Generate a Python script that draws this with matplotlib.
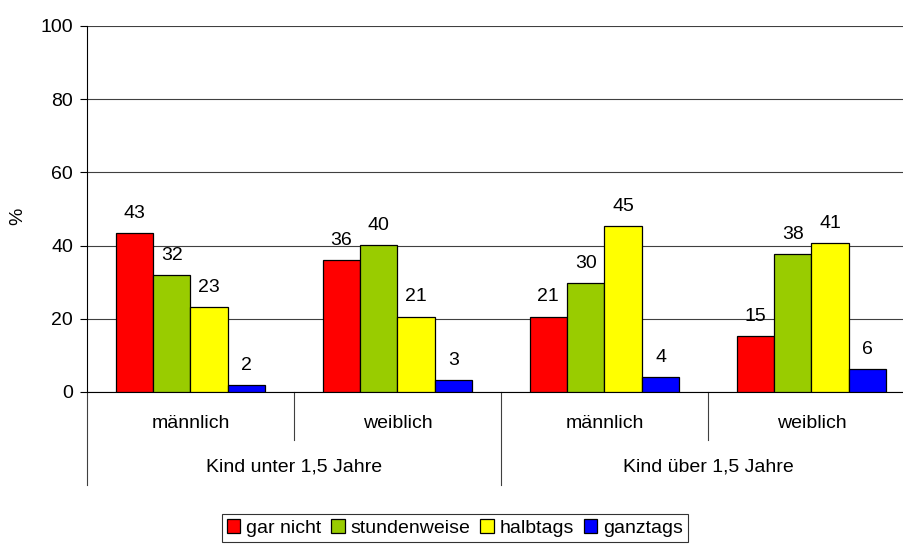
import numpy as np
import matplotlib.pyplot as plt
import matplotlib.transforms as mtransforms

plt.rcParams['font.family'] = ['Liberation Sans', 'DejaVu Sans']

# Data
groups = ['Kind unter 1,5 Jahre', 'Kind über 1,5 Jahre']
genders = ['männlich', 'weiblich', 'männlich', 'weiblich']
series = ['gar nicht', 'stundenweise', 'halbtags', 'ganztags']
gar_nicht = [43.4, 36.0, 20.6, 15.4]
stundenweise = [32.0, 40.2, 29.8, 37.7]
halbtags = [23.2, 20.6, 45.4, 40.6]
ganztags = [1.9, 3.3, 4.1, 6.3]
colors = ['#FF0000', '#99CC00', '#FFFF00', '#0000FF']

values = [gar_nicht, stundenweise, halbtags, ganztags]
fs = 14

fig = plt.figure(figsize=(9.04, 5.57), dpi=100)
ax = fig.add_axes([87 / 904, 1 - 392 / 557, 1 - 87 / 904, (392 - 26) / 557])

x = np.arange(len(genders)) + 0.5
w = 0.181
for i, (name, vals, c) in enumerate(zip(series, values, colors)):
    pos = x + (i - 1.5) * w
    bars = ax.bar(pos, vals, width=w, color=c, edgecolor='black', linewidth=0.9,
                  label=name, zorder=3)
    for b, v in zip(bars, vals):
        ax.annotate(f'{v:.0f}', (b.get_x() + b.get_width() / 2, v),
                    xytext=(0, 8), textcoords='offset points',
                    ha='center', va='bottom', fontsize=fs)

ax.set_ylim(0, 100)
ax.set_xlim(0, (904 - 87) / 207)
ax.set_yticks(range(0, 101, 20))
ax.yaxis.grid(True, color='#404040', linewidth=0.8)
ax.set_axisbelow(True)
ax.tick_params(axis='y', labelsize=fs, length=5, width=0.8, direction='out', pad=5)
ax.set_xticks([])
for s in ['top', 'right']:
    ax.spines[s].set_visible(False)
ax.spines['bottom'].set_linewidth(0.8)
ax.spines['left'].set_linewidth(0.8)
ax.set_ylabel('%', fontsize=fs)
ax.yaxis.set_label_coords((26 - 87) / 817, 0.48)

# category axis lines and labels below
trans = mtransforms.blended_transform_factory(ax.transData, ax.transAxes)
ax.plot([0, 0], [0, -0.254], transform=trans, color='#404040', lw=0.8, clip_on=False)
for b in [1, 3]:
    ax.plot([b, b], [0, -0.131], transform=trans, color='#404040', lw=0.8, clip_on=False)
ax.plot([2, 2], [0, -0.254], transform=trans, color='#404040', lw=0.8, clip_on=False)
for xi, g in zip(x, genders):
    ax.text(xi, -0.085, g, transform=trans, ha='center', va='center', fontsize=fs)
for j, g in enumerate(groups):
    ax.text(2 * j + 1, -0.205, g, transform=trans, ha='center', va='center', fontsize=fs)

leg = fig.legend(loc='center', bbox_to_anchor=(455 / 904, 1 - 528 / 557), ncol=4,
                 fontsize=fs, frameon=True, fancybox=False, edgecolor='black',
                 handlelength=0.7, handleheight=0.7, handletextpad=0.3,
                 columnspacing=0.5, borderpad=0.25)
leg.get_frame().set_linewidth(0.8)

fig.savefig('out.png', dpi=100)
